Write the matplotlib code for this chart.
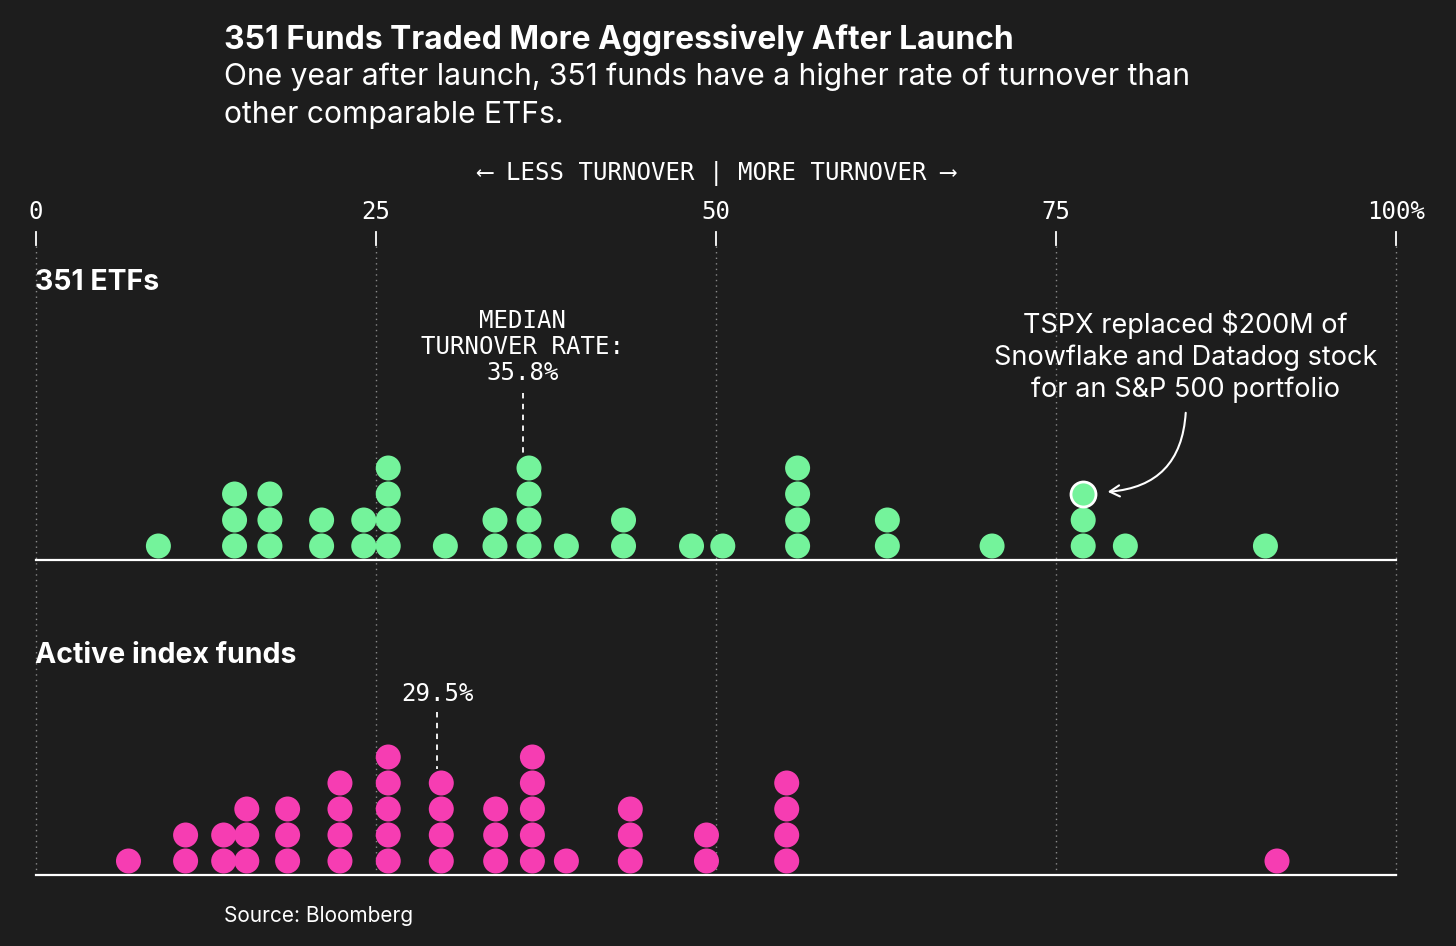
import matplotlib
matplotlib.use("Agg")
import matplotlib.pyplot as plt
from matplotlib.patches import FancyArrowPatch

# ---------------- data ----------------
etf_values = [9.0, 14.6, 17.2, 21.0, 24.1, 25.9, 30.1, 33.75, 36.25, 39.0,
              43.2, 48.2, 50.5, 56.0, 62.6, 70.3, 77.0, 80.1, 90.4]
etf_counts = [1, 3, 3, 2, 2, 4, 1, 2, 4, 1,
              2, 1, 1, 4, 2, 1, 3, 1, 1]
active_values = [6.8, 11.0, 13.8, 15.5, 18.5, 22.35, 25.9, 29.8, 33.8, 36.5,
                 39.0, 43.7, 49.3, 55.2, 91.25]
active_counts = [1, 2, 2, 3, 3, 4, 5, 4, 3, 5,
                 1, 3, 2, 4, 1]
etf_median = 35.8
active_median = 29.5
highlight_value = 77.0   # TSPX
highlight_level = 2
tick_values = [0, 25, 50, 75, 100]
tick_labels = ["0", "25", "50", "75", "100%"]

title = "351 Funds Traded More Aggressively After Launch"
subtitle = "One year after launch, 351 funds have a higher rate of turnover than\nother comparable ETFs."
direction_label = "\u27f5 LESS TURNOVER | MORE TURNOVER \u27f6"
panel_labels = ["351 ETFs", "Active index funds"]
median_label_etf = "MEDIAN\nTURNOVER RATE:\n35.8%"
median_label_active = "29.5%"
annotation = "TSPX replaced $200M of\nSnowflake and Datadog stock\nfor an S&P 500 portfolio"
source = "Source: Bloomberg"

# ---------------- style ----------------
BG = "#1d1d1d"
GREEN = "#74f39b"
PINK = "#f63db2"
WHITE = "#ffffff"
GRID = "#8a8a8a"
SANS = ["Inter", "DejaVu Sans"]
MONO = ["DejaVu Sans Mono", "DejaVu Sans"]
MONO_SIZE = 17.3

W, H = 1456, 946
fig = plt.figure(figsize=(W / 100, H / 100), dpi=100, facecolor=BG)
ax = fig.add_axes([0, 0, 1, 1])
ax.set_facecolor(BG)
# x: data 0..100 spans pixels 36..1396 ; y: pixel rows (top = 0)
x0_px, x100_px = 36, 1396
scale = 100 / (x100_px - x0_px)
ax.set_xlim(-x0_px * scale, (W - x0_px) * scale)
ax.set_ylim(H, 0)
ax.axis("off")

base_etf, base_act = 560, 875
step = 26
first = 14
dot_s = 18.0 ** 2

# grid lines and ticks
for v, lab in zip(tick_values, tick_labels):
    ax.plot([v, v], [246, base_act], color=GRID, lw=1.0, ls=(0, (1, 3)), zorder=1)
    ax.plot([v, v], [232, 245], color=WHITE, lw=1.3, zorder=2)
    ax.text(v, 212, lab, color=WHITE, fontsize=MONO_SIZE, family=MONO,
            ha="center", va="center")

# baselines
for b in (base_etf, base_act):
    ax.plot([0, 100], [b, b], color=WHITE, lw=1.6, zorder=2)


def stack(values, counts, base):
    xs, ys = [], []
    for v, c in zip(values, counts):
        for i in range(c):
            xs.append(v)
            ys.append(base - first - step * i)
    return xs, ys


xs, ys = stack(etf_values, etf_counts, base_etf)
ax.scatter(xs, ys, s=dot_s, color=GREEN, edgecolors="none", zorder=3)
xs, ys = stack(active_values, active_counts, base_act)
ax.scatter(xs, ys, s=dot_s, color=PINK, edgecolors="none", zorder=3)

# highlighted TSPX dot
hy = base_etf - first - step * highlight_level
ax.scatter([highlight_value], [hy], s=dot_s, color=GREEN, edgecolors=WHITE,
           linewidths=2.0, zorder=4)

# median markers
ax.plot([etf_median, etf_median], [393, 456], color=WHITE, lw=1.3,
        ls=(0, (3, 3)), zorder=2)
ax.text(etf_median, 347, median_label_etf, color=WHITE, fontsize=MONO_SIZE,
        family=MONO, ha="center", va="center", linespacing=1.1)
ax.plot([active_median, active_median], [712, 769], color=WHITE, lw=1.3,
        ls=(0, (3, 3)), zorder=2)
ax.text(active_median, 694, median_label_active, color=WHITE, fontsize=MONO_SIZE,
        family=MONO, ha="center", va="center")

# annotation
ax.text(84.5, 356.5, annotation, color=WHITE, fontsize=19.5, family=SANS,
        ha="center", va="center", linespacing=1.28)
arrow = FancyArrowPatch((84.55, 410), (78.6, 492),
                        connectionstyle="arc3,rad=-0.45",
                        arrowstyle="->,head_length=7,head_width=4",
                        color=WHITE, lw=1.5, zorder=5)
ax.add_patch(arrow)

# panel labels
ax.text(-0.1, 282, panel_labels[0], color=WHITE, fontsize=20.5, family=SANS,
        weight="bold", ha="left", va="center")
ax.text(-0.1, 655, panel_labels[1], color=WHITE, fontsize=20.5, family=SANS,
        weight="bold", ha="left", va="center")

# direction label
ax.text(50, 173, direction_label, color=WHITE, fontsize=MONO_SIZE, family=MONO,
        ha="center", va="center")

# title / subtitle / source
fig.text(224 / W, 1 - 39.5 / H, title, color=WHITE, fontsize=22.9, family=SANS,
         weight="bold", ha="left", va="center")
fig.text(224 / W, 1 - 95.5 / H, subtitle, color=WHITE, fontsize=21.6, family=SANS,
         ha="left", va="center", linespacing=1.45)
fig.text(224 / W, 1 - 916 / H, source, color=WHITE, fontsize=15, family=SANS,
         ha="left", va="center")

fig.savefig("out.png", dpi=100, facecolor=BG)
